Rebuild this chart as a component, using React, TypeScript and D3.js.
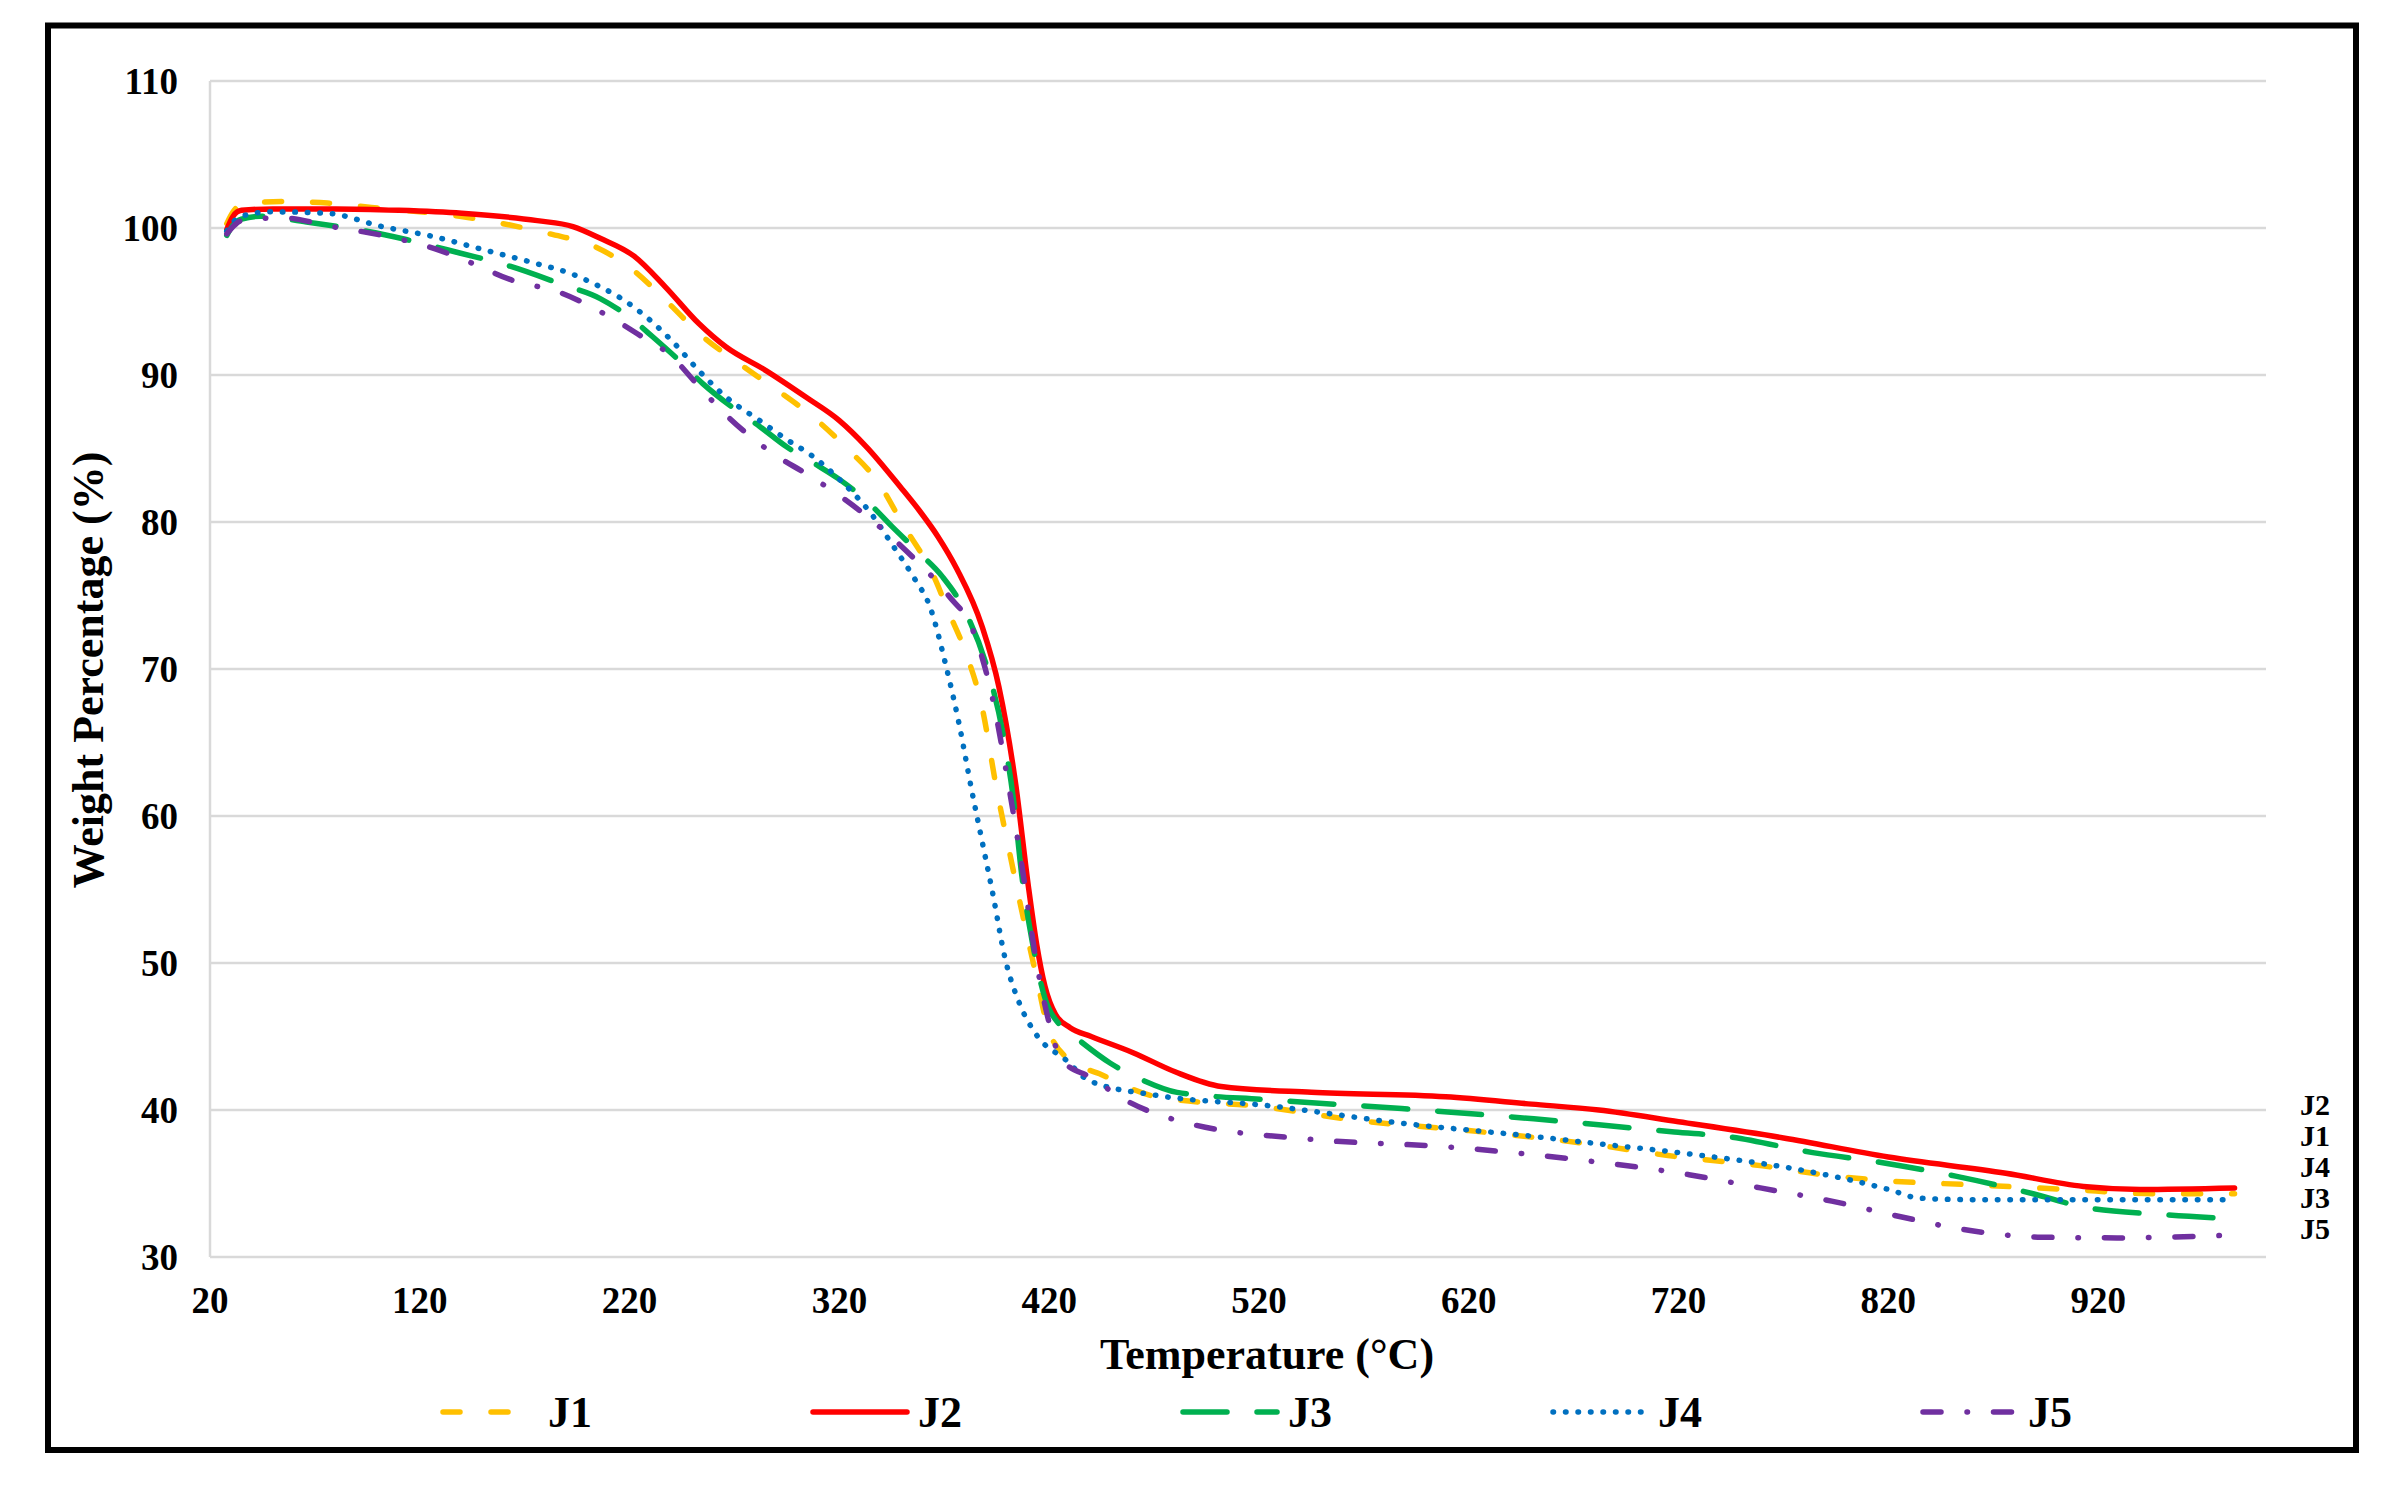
import React from "react";
import * as d3 from "d3";

// ---------- data (temperature °C, weight %) ----------
const j1: [number, number][] = [
  [28, 100.3], [31, 101.1], [35, 101.6], [54, 101.8], [76, 101.7], [97, 101.4], [139, 100.8],
  [163, 100.2], [182, 99.6], [204, 98.7], [222, 97.1], [237, 95.1], [255, 92.6], [272, 90.8],
  [290, 89.0], [307, 87.2], [323, 85.1], [339, 82.6], [350, 79.9], [365, 76.3], [372, 73.9],
  [380, 71.2], [388, 67.4], [395, 61.8], [401, 57.6], [407, 53.5], [414, 49.0], [419, 45.8],
  [428, 43.6], [445, 42.4], [471, 40.9], [523, 40.2], [566, 39.3], [620, 38.6], [682, 37.6],
  [715, 36.9], [760, 36.2], [789, 35.6], [818, 35.2], [862, 34.9], [905, 34.6], [949, 34.3],
  [985, 34.3],
];
const j2: [number, number][] = [
  [28, 99.9], [31, 100.8], [35, 101.2], [50, 101.3], [80, 101.3], [110, 101.2], [140, 101.0],
  [176, 100.5], [193, 100.1], [206, 99.3], [222, 98.1], [237, 96.0], [253, 93.5], [266, 91.9],
  [285, 90.3], [304, 88.5], [320, 86.9], [333, 85.1], [349, 82.4], [358, 80.8], [367, 79.0],
  [376, 76.8], [388, 72.9], [396, 68.8], [404, 62.2], [410, 55.3], [414, 51.3], [418, 48.4],
  [423, 46.5], [430, 45.6], [440, 45.0], [460, 43.9], [480, 42.6], [502, 41.6], [545, 41.2],
  [609, 40.9], [650, 40.4], [682, 40.0], [720, 39.2], [770, 38.1], [820, 36.8], [876, 35.7],
  [913, 34.8], [940, 34.6], [985, 34.7],
];
const j3: [number, number][] = [
  [28, 99.5], [31, 100.2], [35, 100.6], [44, 100.8], [66, 100.4], [90, 99.9], [114, 99.2],
  [139, 98.3], [163, 97.4], [187, 96.2], [206, 95.2], [222, 93.7], [231, 92.6], [242, 91.2],
  [255, 89.4], [269, 87.8], [282, 86.5], [295, 85.1], [309, 83.9], [320, 82.9], [334, 81.3],
  [345, 79.7], [358, 77.9], [369, 76.3], [380, 73.9], [391, 69.8], [398, 65.6], [403, 61.1],
  [407, 55.9], [412, 51.4], [418, 47.6], [425, 45.8], [432, 45.0], [449, 43.2], [465, 42.0],
  [481, 41.2], [524, 40.7], [588, 40.1], [651, 39.4], [682, 39.0], [718, 38.5], [743, 38.2],
  [784, 37.1], [818, 36.4], [852, 35.5], [889, 34.3], [913, 33.4], [949, 32.9], [985, 32.6],
];
const j4: [number, number][] = [
  [28, 99.8], [31, 100.4], [35, 100.8], [49, 101.1], [76, 101.0], [102, 100.1], [127, 99.4],
  [151, 98.5], [175, 97.6], [192, 96.9], [206, 96.0], [215, 95.3], [230, 93.7], [241, 92.2],
  [253, 90.3], [266, 88.5], [282, 86.9], [295, 85.6], [307, 84.5], [320, 82.9], [336, 80.4],
  [345, 78.5], [356, 76.1], [363, 74.3], [371, 70.1], [377, 66.3], [383, 61.8], [388, 58.3],
  [393, 54.8], [399, 50.3], [406, 47.2], [414, 45.1], [428, 43.4], [439, 42.0], [471, 41.0],
  [524, 40.3], [588, 39.1], [651, 38.2], [682, 37.7], [720, 37.1], [779, 35.9], [803, 35.2],
  [820, 34.6], [835, 34.0], [860, 33.9], [985, 33.9],
];
const j5: [number, number][] = [
  [28, 99.6], [31, 100.1], [35, 100.5], [54, 100.7], [78, 100.1], [102, 99.5], [127, 98.6],
  [145, 97.6], [163, 96.5], [187, 95.6], [210, 94.0], [226, 92.6], [239, 91.4], [252, 89.4],
  [263, 87.7], [276, 86.0], [290, 84.5], [304, 83.3], [318, 82.0], [333, 80.4], [355, 77.6],
  [372, 75.0], [384, 72.5], [393, 68.0], [401, 61.8], [407, 56.6], [414, 50.0], [419, 46.5],
  [426, 43.4], [440, 42.2], [456, 40.7], [486, 39.1], [545, 38.0], [609, 37.5], [673, 36.6],
  [725, 35.6], [759, 34.7], [793, 33.8], [827, 32.7], [859, 31.8], [893, 31.35], [929, 31.3],
  [965, 31.4], [985, 31.5],
];

const seriesNames = ["J1", "J2", "J3", "J4", "J5"];
const seriesData = [j1, j2, j3, j4, j5];
const xTickValues = [20, 120, 220, 320, 420, 520, 620, 720, 820, 920];
const yTickValues = [30, 40, 50, 60, 70, 80, 90, 100, 110];
const endLabels = ["J2", "J1", "J4", "J3", "J5"];

// ---------- styles ----------
const colors = ["#FFC000", "#FF0000", "#00B050", "#0070C0", "#7030A0"];
const dashes = ["17 31", "none", "44 30", "0.5 12", "18 26 0.5 26"];

const W = 2395;
const H = 1494;
const left = 210;
const right = 2266;
const top = 81;
const bottom = 1257;
const font = "'Liberation Serif', 'Times New Roman', serif";

export default function App() {
  const x = d3.scaleLinear().domain([20, 1000]).range([left, right]);
  const y = d3.scaleLinear().domain([30, 110]).range([bottom, top]);
  const line = d3
    .line<[number, number]>()
    .x((d) => x(d[0]))
    .y((d) => y(d[1]))
    .curve(d3.curveMonotoneX);

  const legendStart = 440;
  const legendStep = 370;

  return (
    <svg
      width={W}
      height={H}
      viewBox={`0 0 ${W} ${H}`}
      style={{ position: "absolute", left: 0, top: 0, background: "#fff" }}
    >
      <rect x={0} y={0} width={W} height={H} fill="#fff" />
      {/* gridlines */}
      {yTickValues.map((v) => (
        <line key={v} x1={left} x2={right} y1={y(v)} y2={y(v)} stroke="#D9D9D9" strokeWidth={2.5} />
      ))}
      <line x1={left} x2={left} y1={top} y2={bottom} stroke="#D9D9D9" strokeWidth={2.5} />

      {/* y tick labels */}
      {yTickValues.map((v) => (
        <text
          key={v}
          x={178}
          y={y(v)}
          dy="0.35em"
          textAnchor="end"
          fontFamily={font}
          fontWeight="bold"
          fontSize={37}
          fill="#000"
        >
          {v}
        </text>
      ))}
      {/* x tick labels */}
      {xTickValues.map((v) => (
        <text
          key={v}
          x={x(v)}
          y={1313}
          textAnchor="middle"
          fontFamily={font}
          fontWeight="bold"
          fontSize={37}
          fill="#000"
        >
          {v}
        </text>
      ))}

      {/* series */}
      {seriesData.map((d, i) => (
        <path
          key={seriesNames[i]}
          d={line(d) || ""}
          fill="none"
          stroke={colors[i]}
          strokeWidth={5.5}
          strokeDasharray={dashes[i]}
          strokeLinecap="round"
          strokeLinejoin="round"
        />
      ))}

      {/* end labels */}
      {endLabels.map((t, i) => (
        <text
          key={t}
          x={2300}
          y={1104 + i * 31}
          dy="0.35em"
          fontFamily={font}
          fontWeight="bold"
          fontSize={30}
          fill="#000"
        >
          {t}
        </text>
      ))}

      {/* axis titles */}
      <text
        x={1267}
        y={1369}
        textAnchor="middle"
        fontFamily={font}
        fontWeight="bold"
        fontSize={44}
        fill="#000"
      >
        Temperature (°C)
      </text>
      <text
        transform="translate(103,670) rotate(-90)"
        textAnchor="middle"
        fontFamily={font}
        fontWeight="bold"
        fontSize={44}
        fill="#000"
      >
        Weight Percentage (%)
      </text>

      {/* legend */}
      {seriesNames.map((n, i) => {
        const sx = legendStart + i * legendStep;
        return (
          <g key={n}>
            <line
              x1={sx + 3}
              x2={sx + 97}
              y1={1412}
              y2={1412}
              stroke={colors[i]}
              strokeWidth={5.5}
              strokeDasharray={dashes[i]}
              strokeLinecap="round"
            />
            <text
              x={sx + 108}
              y={1427}
              fontFamily={font}
              fontWeight="bold"
              fontSize={44}
              fill="#000"
            >
              {n}
            </text>
          </g>
        );
      })}

      {/* outer border */}
      <rect x={48} y={25.5} width={2308} height={1424.5} fill="none" stroke="#000" strokeWidth={6} />
    </svg>
  );
}
